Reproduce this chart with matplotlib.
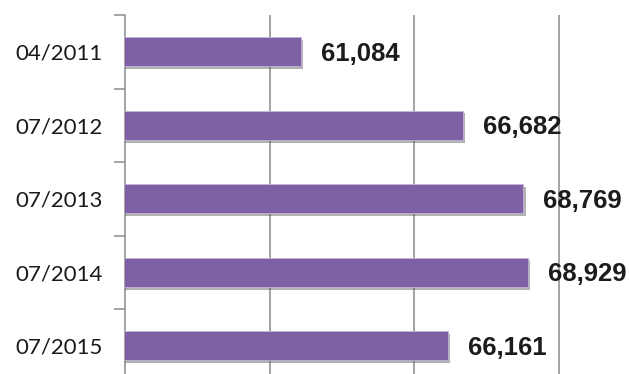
import matplotlib.pyplot as plt
import matplotlib.patheffects as pe

# Datos
fechas = ['04/2011', '07/2012', '07/2013', '07/2014', '07/2015']
valores = [61084, 66682, 68769, 68929, 66161]

color_barra = '#7E61A4'
color_eje = '#8C8C8C'

fig = plt.figure(figsize=(6.29, 3.74), dpi=100)
# el eje sigue un poco por debajo del borde inferior (imagen recortada)
ax = fig.add_axes([125/629, -8.5/374, 504/629, 367.5/374])

y = list(range(len(fechas)))
barras = ax.barh(y, valores, height=0.4, color=color_barra,
                 edgecolor='#C4B4D8', linewidth=0.6, zorder=3)
for b in barras:
    b.set_path_effects([pe.SimplePatchShadow(offset=(1.5, -2), shadow_rgbFace='#555555', alpha=0.45),
                        pe.Normal()])

for yi, v in zip(y, valores):
    ax.text(v + 680, yi + 0.03, f'{v:,}', va='center', ha='left', fontsize=18.5,
            fontweight='bold', family='Liberation Sans', color='#1C1C1C')

ax.set_xlim(55000, 72415)
ax.set_ylim(len(fechas) - 0.5, -0.5)
ax.set_xticks([60000, 65000, 70000])
ax.xaxis.grid(True, color=color_eje, linewidth=1.1, zorder=0)
ax.tick_params(axis='x', length=0, labelbottom=False)

# marcas entre categorías en el eje vertical
ax.set_yticks([i - 0.5 for i in range(len(fechas))], minor=False)
ax.set_yticklabels([])
ax.set_yticks(y, minor=True)
ax.set_yticklabels(fechas, minor=True, fontsize=16, family='Lato', color='#1A1A1A')
ax.tick_params(axis='y', which='major', length=8, width=1.1, color=color_eje, direction='out')
ax.tick_params(axis='y', which='minor', length=0, pad=16)

for s in ['top', 'right', 'bottom']:
    ax.spines[s].set_visible(False)
ax.spines['left'].set_color(color_eje)
ax.spines['left'].set_linewidth(1.1)

plt.savefig('out.png', dpi=100)
